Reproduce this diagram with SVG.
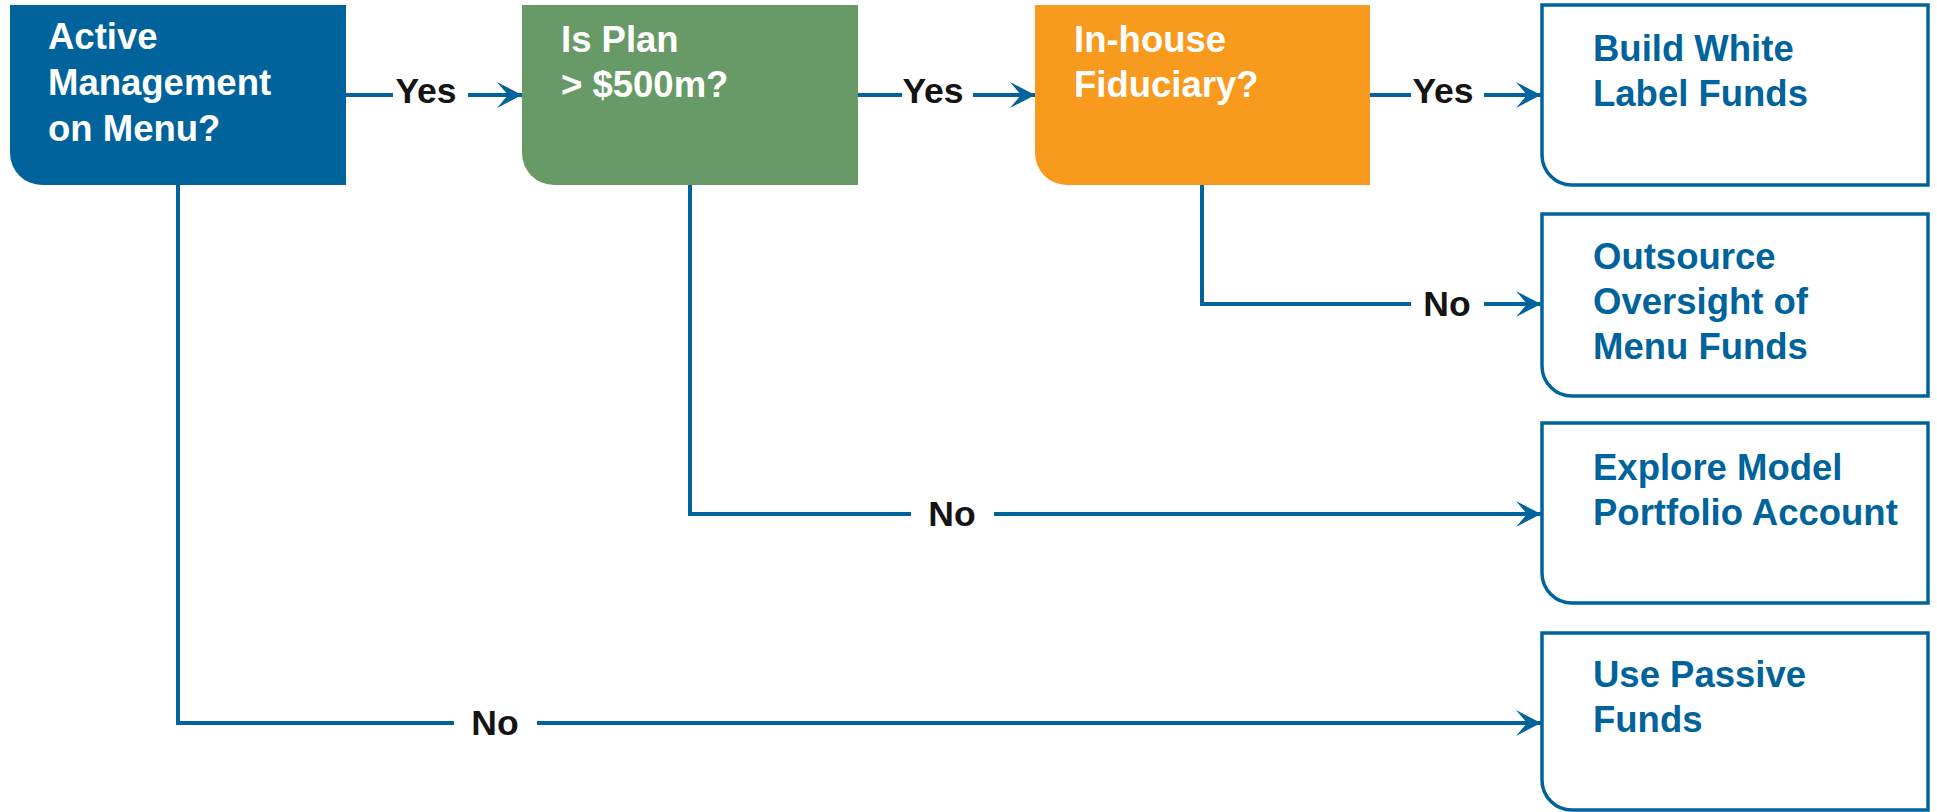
<svg xmlns="http://www.w3.org/2000/svg" width="1937" height="812" viewBox="0 0 1937 812">
<style>
.q{font-family:"Liberation Sans",Arial,sans-serif;font-weight:bold;font-size:36.5px;fill:#ffffff}
.r{font-family:"Liberation Sans",Arial,sans-serif;font-weight:bold;font-size:36.5px;fill:#00639B}
.lbl{font-family:"Liberation Sans",Arial,sans-serif;font-weight:bold;font-size:35.5px;fill:#141414;text-anchor:middle}
.out{fill:#ffffff;stroke:#00639B;stroke-width:3.5}
.ln{fill:none;stroke:#00639B;stroke-width:4}
</style>
<defs>
<marker id="ah" markerUnits="userSpaceOnUse" markerWidth="32" markerHeight="32" viewBox="-28 -16 32 32" refX="0" refY="0" orient="auto">
<path d="M0,0 L-25,-13 L-14,0 L-25,13 Z" fill="#00639B"/>
</marker>
</defs>
<g id="connectors">
<line class="ln" x1="346" y1="95" x2="393" y2="95"/>
<line class="ln" x1="468" y1="95" x2="522" y2="95" marker-end="url(#ah)"/>
<text class="lbl" x="426" y="103">Yes</text>
<line class="ln" x1="858" y1="95" x2="902" y2="95"/>
<line class="ln" x1="973" y1="95" x2="1035" y2="95" marker-end="url(#ah)"/>
<text class="lbl" x="933" y="103">Yes</text>
<line class="ln" x1="1370" y1="95" x2="1411" y2="95"/>
<line class="ln" x1="1484" y1="95" x2="1541" y2="95" marker-end="url(#ah)"/>
<text class="lbl" x="1443" y="103">Yes</text>
<path class="ln" d="M1202,185 V304 H1411"/>
<line class="ln" x1="1484" y1="304" x2="1541" y2="304" marker-end="url(#ah)"/>
<text class="lbl" x="1447" y="316">No</text>
<path class="ln" d="M690,185 V514 H911"/>
<line class="ln" x1="994" y1="514" x2="1541" y2="514" marker-end="url(#ah)"/>
<text class="lbl" x="952" y="526">No</text>
<path class="ln" d="M178,185 V723 H454"/>
<line class="ln" x1="537" y1="723" x2="1541" y2="723" marker-end="url(#ah)"/>
<text class="lbl" x="495" y="735">No</text>
</g>
<g id="active-management">
<path d="M10,5 H346 V185 H42 A32,32 0 0 1 10,153 Z" fill="#00639B"/>
<text class="q" x="48" y="49">Active</text>
<text class="q" x="48" y="95">Management</text>
<text class="q" x="48" y="141">on Menu?</text>
</g>
<g id="plan-size">
<path d="M522,5 H858 V185 H554 A32,32 0 0 1 522,153 Z" fill="#689A67"/>
<text class="q" x="561" y="52">Is Plan</text>
<text class="q" x="561" y="97">&gt; $500m?</text>
</g>
<g id="in-house">
<path d="M1035,5 H1370 V185 H1067 A32,32 0 0 1 1035,153 Z" fill="#F89A1E"/>
<text class="q" x="1074" y="52">In-house</text>
<text class="q" x="1074" y="97">Fiduciary?</text>
</g>
<g id="white-label">
<path class="out" d="M1542,5 H1928 V185 H1572 A30,30 0 0 1 1542,155 Z"/>
<text class="r" x="1593" y="61">Build White</text>
<text class="r" x="1593" y="106">Label Funds</text>
</g>
<g id="outsource">
<path class="out" d="M1542,214 H1928 V396 H1572 A30,30 0 0 1 1542,366 Z"/>
<text class="r" x="1593" y="269">Outsource</text>
<text class="r" x="1593" y="314">Oversight of</text>
<text class="r" x="1593" y="359">Menu Funds</text>
</g>
<g id="model-portfolio">
<path class="out" d="M1542,423 H1928 V603 H1572 A30,30 0 0 1 1542,573 Z"/>
<text class="r" x="1593" y="480">Explore Model</text>
<text class="r" x="1593" y="525">Portfolio Account</text>
</g>
<g id="passive">
<path class="out" d="M1542,633 H1928 V810 H1572 A30,30 0 0 1 1542,780 Z"/>
<text class="r" x="1593" y="687">Use Passive</text>
<text class="r" x="1593" y="732">Funds</text>
</g>
</svg>
